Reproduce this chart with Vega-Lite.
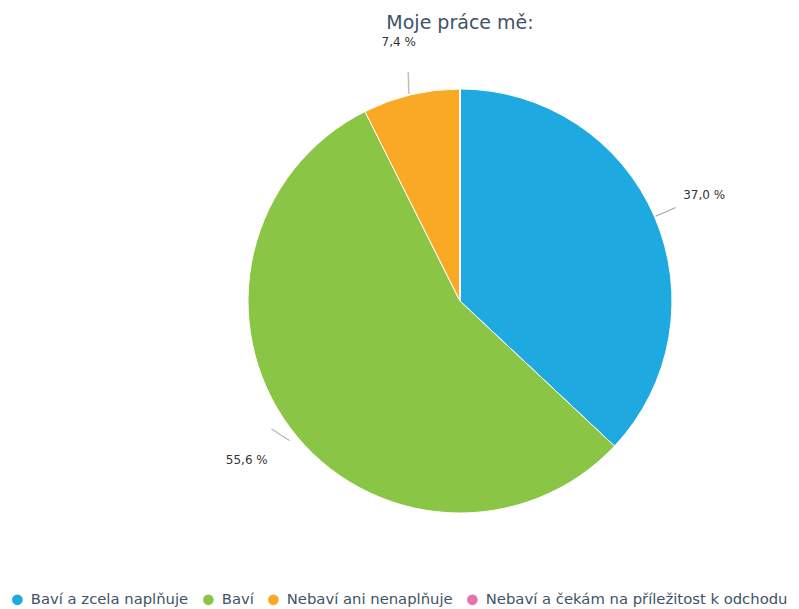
{
  "$schema": "https://vega.github.io/schema/vega-lite/v6.json",
  "width": 424,
  "height": 424,
  "autosize": {"type": "none"},
  "padding": {"left": 248, "top": 89, "right": 127, "bottom": 96},
  "background": "white",
  "title": {
    "text": "Moje práce mě:",
    "font": "DejaVu Sans",
    "fontSize": 19,
    "fontWeight": "normal",
    "color": "#3e5368",
    "anchor": "middle",
    "frame": "group",
    "offset": 3
  },
  "config": {"view": {"stroke": null}},
  "data": {
    "values": [
      {"kategorie": "Baví a zcela naplňuje", "podil": 37.0, "poradi": 1, "popisek": "37,0 %"},
      {"kategorie": "Baví", "podil": 55.6, "poradi": 2, "popisek": "55,6 %"},
      {"kategorie": "Nebaví ani nenaplňuje", "podil": 7.4, "poradi": 3, "popisek": "7,4 %"},
      {"kategorie": "Nebaví a čekám na příležitost k odchodu", "podil": 0, "poradi": 4, "popisek": "0,0 %"}
    ]
  },
  "encoding": {
    "theta": {"field": "podil", "type": "quantitative", "stack": true},
    "order": {"field": "poradi", "type": "quantitative"}
  },
  "layer": [
    {
      "mark": {"type": "arc", "outerRadius": 212, "stroke": "white", "strokeWidth": 1},
      "encoding": {
        "color": {
          "field": "kategorie",
          "type": "nominal",
          "scale": {
            "domain": ["Baví a zcela naplňuje", "Baví", "Nebaví ani nenaplňuje", "Nebaví a čekám na příležitost k odchodu"],
            "range": ["#1fa9e1", "#8bc545", "#f9a923", "#e672b0"]
          },
          "legend": {
            "title": null,
            "orient": "none",
            "direction": "horizontal",
            "legendX": -238,
            "legendY": 503,
            "symbolType": "circle",
            "symbolSize": 115,
            "symbolStrokeWidth": 0,
            "labelFont": "DejaVu Sans",
            "labelFontSize": 14.8,
            "labelColor": "#3e5368",
            "labelLimit": 400,
            "labelOffset": 6,
            "columnPadding": 12,
            "symbolOffset": 0
          }
        }
      }
    },
    {
      "transform": [{"filter": "datum.podil > 0"}],
      "mark": {"type": "text", "radius": 224, "font": "DejaVu Sans", "fontSize": 12, "fill": "#aaaaaa", "baseline": "middle", "text": "───"},
      "encoding": {
        "angle": {
          "field": "kategorie",
          "type": "nominal",
          "scale": {
            "domain": ["Baví a zcela naplňuje", "Baví", "Nebaví ani nenaplňuje", "Nebaví a čekám na příležitost k odchodu"],
            "range": [-23.4, 143.3, 256.7, 0]
          },
          "legend": null
        }
      }
    },
    {
      "transform": [{"filter": "datum.podil > 0"}],
      "mark": {"type": "text", "radius": 266, "font": "DejaVu Sans", "fontSize": 12, "fill": "#333333"},
      "encoding": {"text": {"field": "popisek", "type": "nominal"}}
    }
  ]
}
